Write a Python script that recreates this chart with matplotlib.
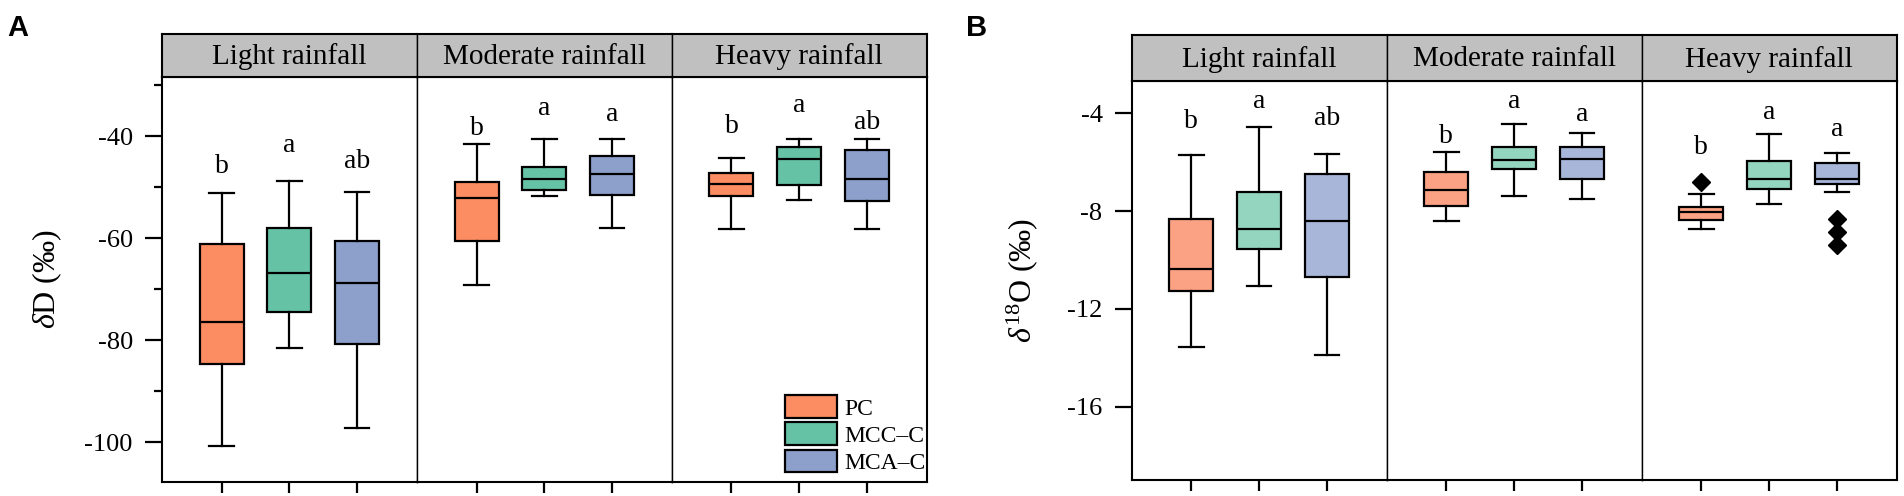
import matplotlib
matplotlib.use("Agg")
import matplotlib.pyplot as plt
from matplotlib.patches import Patch

plt.rcParams['font.family'] = ['Liberation Serif', 'DejaVu Serif']
plt.rcParams['mathtext.fontset'] = 'custom'
plt.rcParams['mathtext.rm'] = 'Liberation Serif'
plt.rcParams['mathtext.it'] = 'Liberation Serif:italic'
plt.rcParams['axes.unicode_minus'] = False

facets = ["Light rainfall", "Moderate rainfall", "Heavy rainfall"]
groups = ["PC", "MCC\u2013C", "MCA\u2013C"]
colors_A = ["#FC8D62", "#66C2A5", "#8DA0CB"]
colors_B = ["#FBA284", "#94D5BF", "#A8B6D9"]

# Panel A (deltaD): [whislo, q1, median, q3, whishi] per facet per group
dD_stats = [
    [[-100.8, -84.6, -76.5, -61.2, -51.1],
     [-81.6, -74.5, -66.9, -58.0, -48.7],
     [-97.2, -80.7, -68.7, -60.5, -51.0]],
    [[-69.1, -60.6, -52.2, -48.9, -41.5],
     [-51.8, -50.5, -48.4, -46.1, -40.5],
     [-58.1, -51.6, -47.4, -43.8, -40.5]],
    [[-58.2, -51.7, -49.3, -47.3, -44.3],
     [-52.6, -49.5, -44.5, -42.2, -40.5],
     [-58.2, -52.7, -48.4, -42.8, -40.5]],
]
dD_fliers = [[[], [], []], [[], [], []], [[], [], []]]
dD_letters = [["b", "a", "ab"], ["b", "a", "a"], ["b", "a", "ab"]]
dD_letter_y = [[-47.2, -43.1, -46.3], [-39.8, -35.9, -37.1], [-39.3, -35.3, -38.5]]

# Panel B (delta18O)
d18O_stats = [
    [[-13.55, -11.26, -10.36, -8.32, -5.72],
     [-11.08, -9.56, -8.72, -7.22, -4.55],
     [-13.87, -10.70, -8.40, -6.50, -5.66]],
    [[-8.42, -7.78, -7.14, -6.41, -5.58],
     [-7.37, -6.27, -5.92, -5.38, -4.44],
     [-7.52, -6.67, -5.86, -5.38, -4.79]],
    [[-8.74, -8.36, -8.04, -7.82, -7.29],
     [-7.71, -7.08, -6.70, -5.94, -4.83],
     [-7.22, -6.89, -6.69, -6.03, -5.64]],
]
d18O_fliers = [[[], [], []], [[], [], []], [[-6.82], [], [-8.32, -8.87, -9.40]]]
d18O_letters = [["b", "a", "ab"], ["b", "a", "a"], ["b", "a", "a"]]
d18O_letter_y = [[-4.61, -3.80, -4.48], [-5.20, -3.80, -4.31], [-5.66, -4.25, -4.93]]

W, H = 1904, 496
fig = plt.figure(figsize=(W / 100, H / 100), dpi=100)


def panel(left, right, bottom, top, strip_top, stats, fliers, letters, letter_y,
          colors, ylim, major, minor, ylabel, label, label_x, ylabel_x, legend=False):
    fw = (right - left) / 3
    axes = []
    for i in range(3):
        ax = fig.add_axes([left + i * fw, bottom, fw, top - bottom])
        axes.append(ax)
        bxps = []
        for j in range(3):
            s = stats[i][j]
            bxps.append(dict(whislo=s[0], q1=s[1], med=s[2], q3=s[3], whishi=s[4],
                             fliers=fliers[i][j]))
        res = ax.bxp(bxps, positions=[1, 2, 3], widths=0.65, capwidths=0.36,
                     patch_artist=True, showfliers=True,
                     boxprops=dict(linewidth=1.6, edgecolor='black'),
                     medianprops=dict(color='black', linewidth=1.6),
                     whiskerprops=dict(color='black', linewidth=1.6),
                     capprops=dict(color='black', linewidth=1.6),
                     flierprops=dict(marker='D', markerfacecolor='black',
                                     markeredgecolor='black', markersize=9))
        for p, c in zip(res['boxes'], colors):
            p.set_facecolor(c)
        for j in range(3):
            ax.text(j + 1, letter_y[i][j], letters[i][j], ha='center', va='baseline',
                    fontsize=20)
        ax.set_xlim(0.12, 3.88)
        ax.set_ylim(*ylim)
        ax.set_xticks([1, 2, 3])
        ax.set_xticklabels([])
        ax.tick_params(axis='x', direction='out', length=8, width=1.6)
        for sp in ax.spines.values():
            sp.set_linewidth(1.5)
        if i > 0:
            ax.spines['left'].set_linewidth(1.0)
        if i < 2:
            ax.spines['right'].set_linewidth(1.0)
        ax.set_yticks(major)
        ax.set_yticks(minor, minor=True)
        if i == 0:
            ax.set_yticklabels([str(v) for v in major])
            ax.tick_params(axis='y', which='major', direction='out', length=12,
                           width=1.6, labelsize=19, pad=9)
            ax.tick_params(axis='y', which='minor', direction='out', length=6,
                           width=1.6)
        else:
            ax.tick_params(axis='y', which='both', left=False, labelleft=False)
        # strip
        sax = fig.add_axes([left + i * fw, top, fw, strip_top - top])
        sax.set_facecolor('#C0C0C0')
        sax.set_xticks([])
        sax.set_yticks([])
        for sp in sax.spines.values():
            sp.set_linewidth(1.5)
        if i > 0:
            sax.spines['left'].set_linewidth(1.0)
        if i < 2:
            sax.spines['right'].set_linewidth(1.0)
        sax.text(0.5, 0.47, facets[i], ha='center', va='center', fontsize=21,
                 transform=sax.transAxes)
    if legend:
        handles = [Patch(facecolor=c, edgecolor='black', linewidth=1.6, label=g)
                   for c, g in zip(colors, groups)]
        axes[2].legend(handles=handles, loc='lower right',
                       bbox_to_anchor=(0.995, 0.02), frameon=False, fontsize=17,
                       handlelength=2.2, handleheight=1.1, labelspacing=0.12,
                       handletextpad=0.3, borderaxespad=0.0, borderpad=0.0)
    fig.text(ylabel_x, (bottom + top) / 2, ylabel, fontsize=23, rotation=90,
             ha='center', va='center')
    fig.text(label_x, 1 - 14 / H, label, fontsize=21, fontweight='bold',
             family='Liberation Sans', ha='left', va='top')


panel(162 / W, 926.7 / W, 1 - 482 / H, 1 - 77 / H, 1 - 34 / H,
      dD_stats, dD_fliers, dD_letters, dD_letter_y, colors_A,
      (-107.8, -28.4), [-40, -60, -80, -100], [-30, -50, -70, -90],
      r'$\delta$D (‰)', 'A', 7 / W, 47 / W, legend=True)

panel(1131.7 / W, 1896.7 / W, 1 - 480 / H, 1 - 81 / H, 1 - 35 / H,
      d18O_stats, d18O_fliers, d18O_letters, d18O_letter_y, colors_B,
      (-19.0, -2.68), [-4, -8, -12, -16], [],
      r'$\delta^{18}$O (‰)', 'B', 966 / W, 1022 / W)

fig.savefig('out.png', dpi=100)
